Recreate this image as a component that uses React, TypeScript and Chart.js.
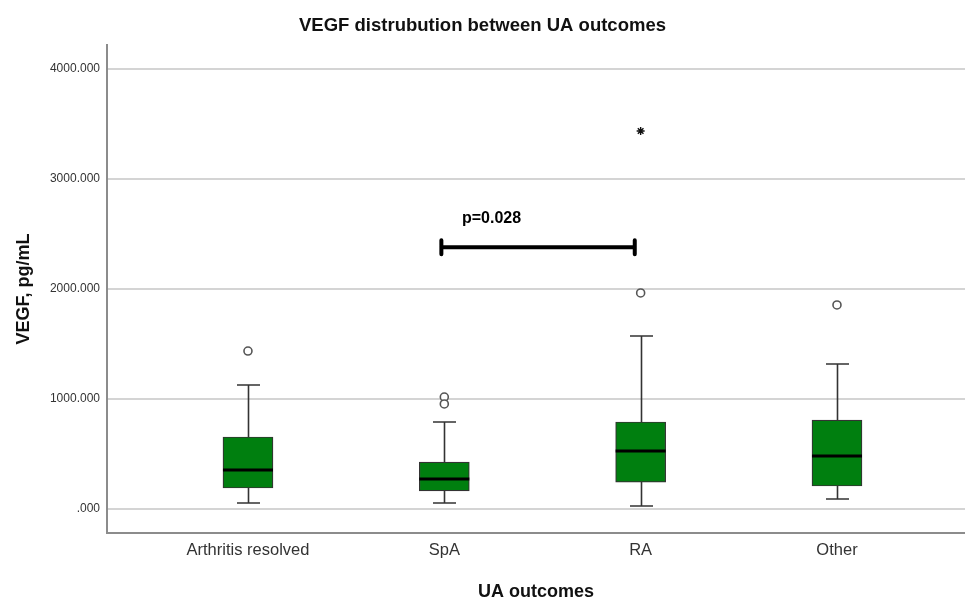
import React, { useEffect, useRef } from "react";
import { Chart, registerables } from "chart.js";

Chart.register(...registerables);

const TITLE = "VEGF distrubution between UA outcomes";
const X_TITLE = "UA outcomes";
const Y_TITLE = "VEGF, pg/mL";

const CATEGORIES = ["Arthritis resolved", "SpA", "RA", "Other"];
const CAT_POS = [1, 2, 3, 4];
const LOW = [55, 55, 27, 91];
const Q1 = [191, 164, 245, 209];
const MEDIAN = [355, 273, 527, 482];
const Q3 = [655, 427, 791, 809];
const HIGH = [1127, 791, 1573, 1318];

const OUTLIER_POS = [1, 2, 2, 3, 4];
const OUTLIER_VAL = [1436, 1018, 955, 1964, 1855];
const EXTREME_POS = [3];
const EXTREME_VAL = [3436];

const Y_TICKS = [0, 1000, 2000, 3000, 4000];

const BRACKET_X = [1.985, 2.97];
const BRACKET_Y = 2380;
const P_LABEL = "p=0.028";
const P_LABEL_X = 2.09;
const P_LABEL_Y = 2600;

const FONT = "'Liberation Sans', Arial, sans-serif";

const boxPlugin = {
  id: "boxExtras",
  afterDatasetsDraw(chart: any) {
    const { ctx, scales } = chart;
    const x = scales.x;
    const y = scales.y;
    ctx.save();
    ctx.strokeStyle = "#333333";
    ctx.lineWidth = 1.6;
    CAT_POS.forEach((c, i) => {
      const cx = Math.round(x.getPixelForValue(c)) + 0.5;
      const pl = y.getPixelForValue(LOW[i]);
      const p1 = y.getPixelForValue(Q1[i]);
      const p3 = y.getPixelForValue(Q3[i]);
      const ph = y.getPixelForValue(HIGH[i]);
      ctx.beginPath();
      ctx.moveTo(cx, p1);
      ctx.lineTo(cx, pl);
      ctx.moveTo(cx, p3);
      ctx.lineTo(cx, ph);
      ctx.moveTo(cx - 11.5, pl);
      ctx.lineTo(cx + 11.5, pl);
      ctx.moveTo(cx - 11.5, ph);
      ctx.lineTo(cx + 11.5, ph);
      ctx.stroke();
    });
    ctx.strokeStyle = "#000000";
    ctx.lineWidth = 3;
    CAT_POS.forEach((c, i) => {
      const cx = x.getPixelForValue(c);
      const pm = y.getPixelForValue(MEDIAN[i]);
      ctx.beginPath();
      ctx.moveTo(cx - 25, pm);
      ctx.lineTo(cx + 25, pm);
      ctx.stroke();
    });
    const bx0 = x.getPixelForValue(BRACKET_X[0]);
    const bx1 = x.getPixelForValue(BRACKET_X[1]);
    const by = y.getPixelForValue(BRACKET_Y);
    ctx.strokeStyle = "#000000";
    ctx.lineCap = "round";
    ctx.lineWidth = 4;
    ctx.beginPath();
    ctx.moveTo(bx0, by);
    ctx.lineTo(bx1, by);
    ctx.moveTo(bx0, by - 7);
    ctx.lineTo(bx0, by + 7);
    ctx.moveTo(bx1, by - 7);
    ctx.lineTo(bx1, by + 7);
    ctx.stroke();
    ctx.fillStyle = "#000000";
    ctx.font = `bold 16px ${FONT}`;
    ctx.textAlign = "left";
    ctx.textBaseline = "alphabetic";
    ctx.fillText(P_LABEL, x.getPixelForValue(P_LABEL_X), y.getPixelForValue(P_LABEL_Y));
    ctx.restore();
  },
};

export default function App() {
  const ref = useRef<HTMLCanvasElement | null>(null);

  useEffect(() => {
    if (!ref.current) return;
    const chart = new Chart(ref.current, {
      type: "bar",
      data: {
        datasets: [
          {
            type: "bar",
            data: CAT_POS.map((c, i) => ({ x: c, y: [Q1[i], Q3[i]] })) as any,
            backgroundColor: "#007f0f",
            borderColor: "#333333",
            borderWidth: 1.2,
            borderSkipped: false,
            barThickness: 50,
            order: 2,
          },
          {
            type: "scatter",
            data: OUTLIER_POS.map((c, i) => ({ x: c, y: OUTLIER_VAL[i] })),
            pointStyle: "circle",
            pointRadius: 4,
            pointBackgroundColor: "#ffffff",
            pointBorderColor: "#555555",
            pointBorderWidth: 1.6,
            order: 1,
          } as any,
          {
            type: "scatter",
            data: EXTREME_POS.map((c, i) => ({ x: c, y: EXTREME_VAL[i] })),
            pointStyle: "star",
            pointRadius: 4,
            pointBorderColor: "#111111",
            pointBorderWidth: 1.4,
            order: 0,
          } as any,
        ],
      },
      options: {
        animation: false,
        responsive: false,
        layout: { autoPadding: false, padding: { left: 0, right: 0, top: 0, bottom: 0 } },
        plugins: {
          legend: { display: false },
          tooltip: { enabled: false },
          title: {
            display: true,
            text: TITLE,
            color: "#111111",
            font: { family: FONT, size: 18.5, weight: "bold", lineHeight: 1.2 },
            padding: { top: 14.9, bottom: 7.9 },
          },
        },
        scales: {
          x: {
            type: "linear",
            offset: false,
            min: 0.282,
            max: 4.652,
            afterBuildTicks: (scale: any) => {
              scale.ticks = CAT_POS.map((v) => ({ value: v }));
            },
            afterFit: (scale: any) => {
              scale.height = 66;
              scale.paddingRight = 0;
              scale.paddingLeft = 0;
            },
            grid: { display: false, drawTicks: false, offset: false },
            border: { display: true, color: "#8c8c8c", width: 2 },
            ticks: {
              color: "#333333",
              padding: 8,
              font: { family: FONT, size: 16.5 },
              autoSkip: false,
              maxRotation: 0,
              callback: (v: any) => {
                const i = CAT_POS.indexOf(Number(v));
                return i >= 0 ? CATEGORIES[i] : "";
              },
            },
            title: {
              display: true,
              text: X_TITLE,
              color: "#111111",
              font: { family: FONT, size: 18, weight: "bold", lineHeight: 0.8 },
              padding: { top: 0, bottom: 0 },
            },
          },
          y: {
            type: "linear",
            min: -218,
            max: 4218,
            afterBuildTicks: (scale: any) => {
              scale.ticks = Y_TICKS.map((v) => ({ value: v }));
            },
            afterFit: (scale: any) => {
              scale.width = 107;
            },
            grid: { color: "#d4d4d4", lineWidth: 2, drawTicks: false },
            border: { display: true, color: "#8c8c8c", width: 2 },
            ticks: {
              color: "#333333",
              padding: 7,
              font: { family: FONT, size: 12 },
              callback: (v: any) => (Number(v) === 0 ? ".000" : Number(v).toFixed(3)),
            },
            title: {
              display: true,
              text: Y_TITLE,
              color: "#111111",
              font: { family: FONT, size: 18, weight: "bold", lineHeight: 1.2 },
              padding: { top: 13, bottom: 0 },
            },
          },
        },
      },
      plugins: [boxPlugin],
    });
    return () => chart.destroy();
  }, []);

  return (
    <div style={{ position: "absolute", left: 0, top: 0, width: 965, height: 599, background: "#ffffff" }}>
      <canvas ref={ref} width={965} height={599} style={{ display: "block" }} />
    </div>
  );
}
